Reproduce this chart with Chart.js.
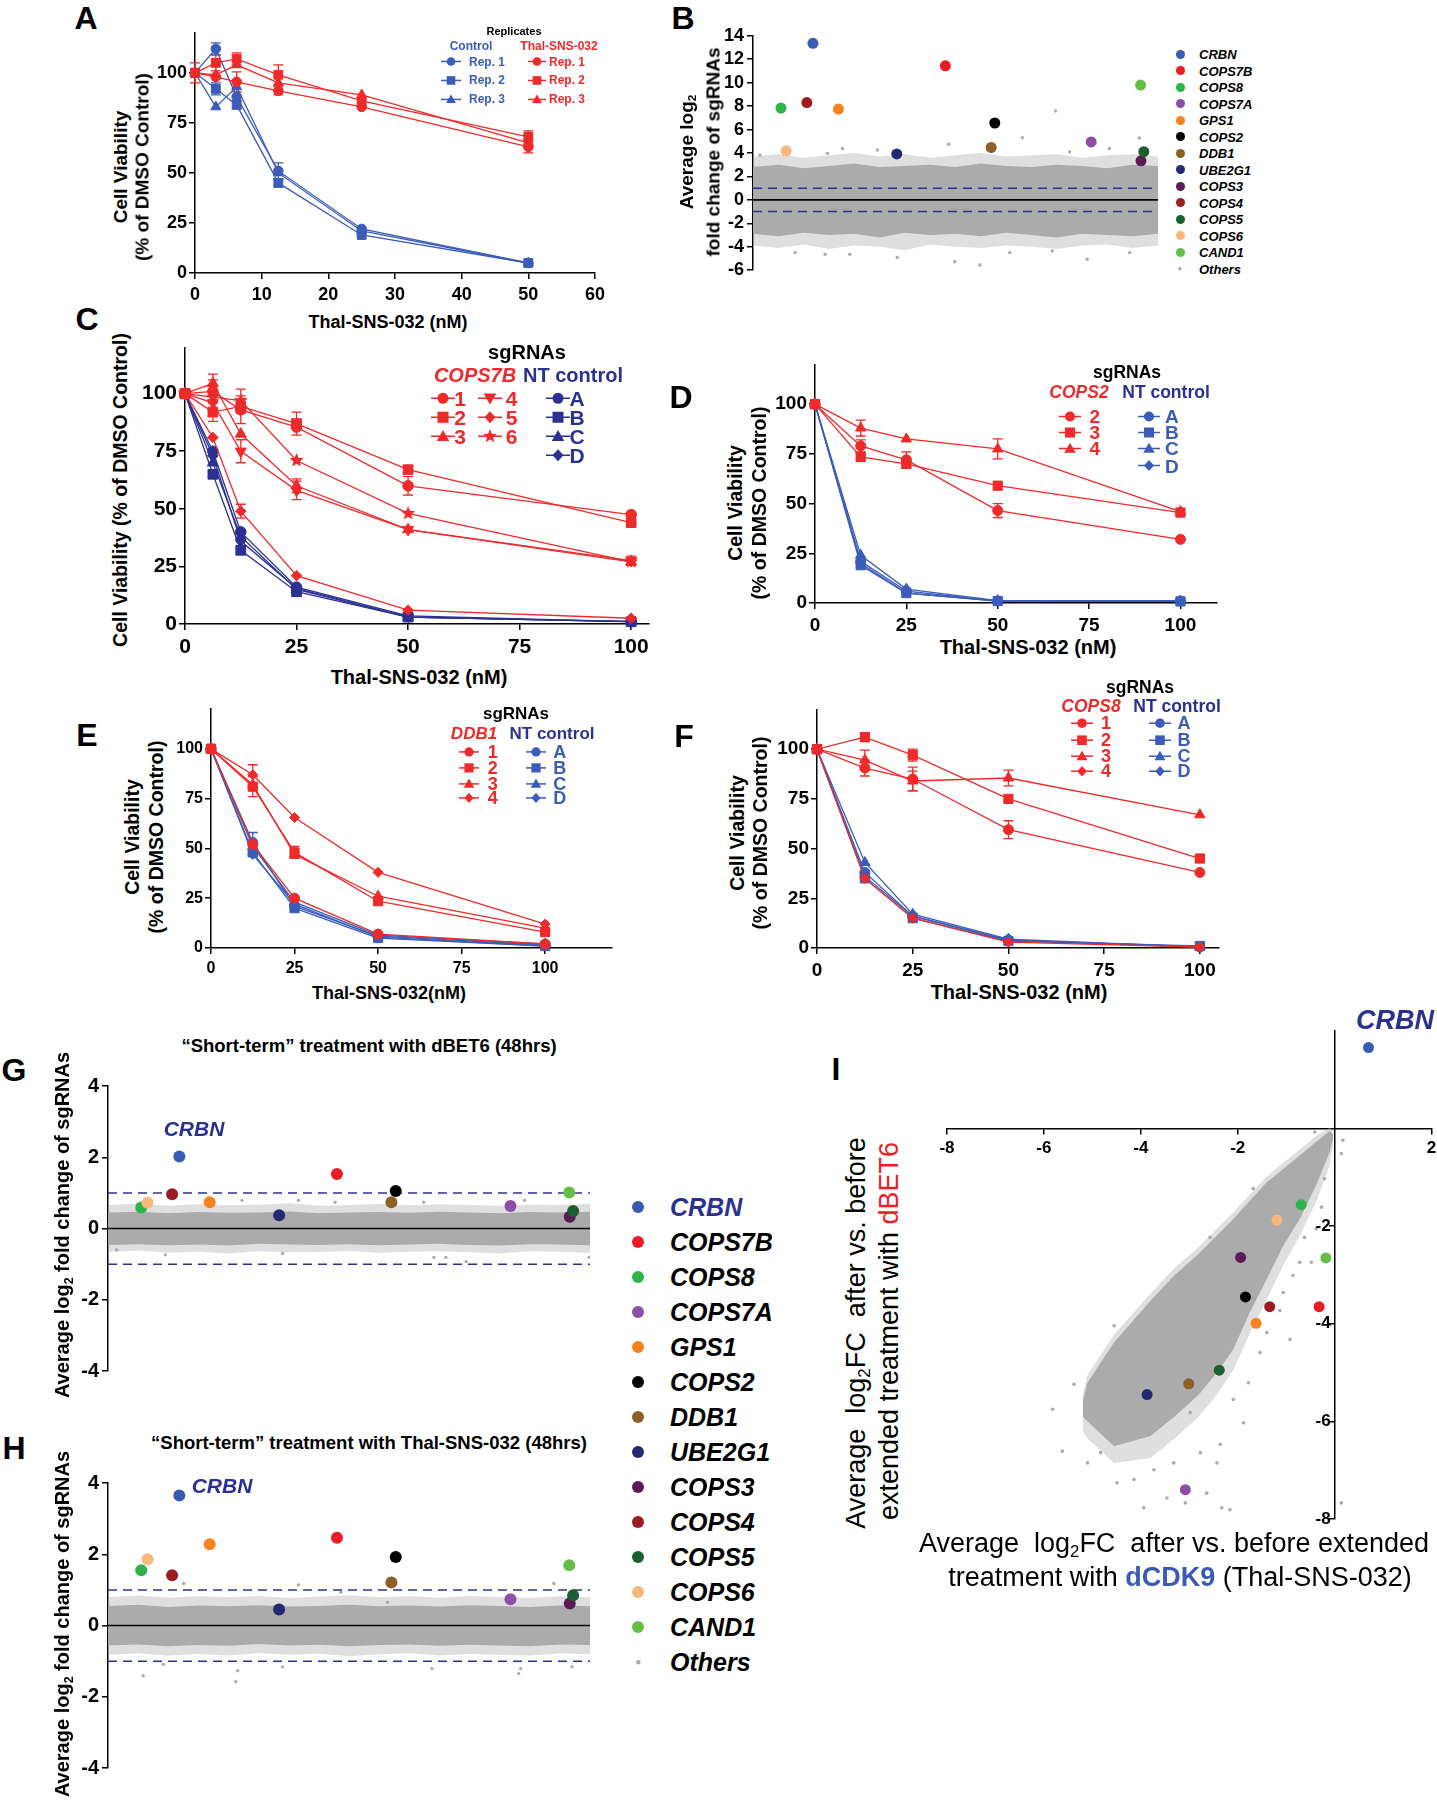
<!DOCTYPE html>
<html>
<head>
<meta charset="utf-8">
<title>Figure</title>
<script src="https://cdn.jsdelivr.net/npm/chart.js@4.4.1/dist/chart.umd.min.js"></script>
<style>
  html, body { margin: 0; padding: 0; background: #fff; }
  body { position: relative; width: 1437px; height: 1800px; overflow: hidden; font-family: 'Liberation Sans', Arial, sans-serif; }
  canvas { position: absolute; }
  .t { position: absolute; white-space: nowrap; line-height: 1; font-weight: bold; transform: translate(-50%, -50%); z-index: 2; }
  .t.l { transform: translate(0, -50%); }
  .t.rot { transform: translate(-50%, -50%) rotate(-90deg); }
  .t sub { font-size: 0.62em; vertical-align: -0.3em; line-height: 0; }
  svg.mk { position: absolute; z-index: 2; overflow: visible; }
</style>
</head>
<body>
<script>
// ---------------- data ----------------
// A: replicates
const DOSE_A = [0, 3.125, 6.25, 12.5, 25, 50];
const A_CTRL_1 = [100, 112, 88, 51, 22, 5];
const A_CTRL_2 = [100, 92, 84, 45, 19, 5];
const A_CTRL_3 = [100, 83, 93, 50, 21, 5];
const A_THAL_1 = [100, 98, 95.5, 91, 83, 63];
const A_THAL_2 = [100, 105, 107, 99, 86, 68];
const A_THAL_3 = [100, 99, 104, 95, 89, 65];
const A_CTRL_1_ERR = [0, 3, 0, 4, 0, 0];
const A_CTRL_2_ERR = [0, 3, 2, 2, 0, 0];
const A_THAL_1_ERR = [0, 0, 5, 2, 0, 3];
const A_THAL_2_ERR = [5, 4, 3, 5, 0, 3];
const A_XTICKS = [0, 10, 20, 30, 40, 50, 60];
const PCT_TICKS = [0, 25, 50, 75, 100];

// C: COPS7B
const DOSE_C = [0, 6.25, 12.5, 25, 50, 100];
const C_S1 = [100, 101, 93, 85.5, 60, 47.5];
const C_S2 = [100, 92, 94.5, 87, 67, 44];
const C_S3 = [100, 104.5, 82.5, 60, 41, 27];
const C_S4 = [100, 96, 75, 58, 41, 27.5];
const C_S5 = [100, 81, 49, 21, 6, 2.5];
const C_S6 = [100, 98.5, 97, 71, 48, 27];
const C_S1_ERR = [0, 5, 6, 0, 4, 0];
const C_S2_ERR = [0, 4, 3, 5, 0, 0];
const C_S3_ERR = [0, 4, 0, 3, 0, 0];
const C_S4_ERR = [0, 0, 5, 4, 0, 2];
const C_S5_ERR = [0, 0, 3, 0, 0, 0];
const C_S6_ERR = [0, 0, 5, 0, 0, 0];
const C_NT_A = [100, 75, 40, 16, 3.5, 1];
const C_NT_B = [100, 65, 32, 14, 3, 1];
const C_NT_C = [100, 70, 38, 15, 3, 1];
const C_NT_D = [100, 73, 36, 15.5, 3, 1];
const DOSE_TICKS = [0, 25, 50, 75, 100];

// D: COPS2
const DOSE_D = [0, 12.5, 25, 50, 100];
const D_S2 = [100, 79, 72, 46.5, 32];
const D_S3 = [100, 73.5, 70, 59, 45.5];
const D_S4 = [100, 88, 82.5, 77.5, 46];
const D_S2_ERR = [0, 3, 4, 3.5, 0];
const D_S3_ERR = [0, 2, 2, 0, 0];
const D_S4_ERR = [0, 4, 0, 5, 0];
const D_NT_A = [100, 21, 6, 1, 1];
const D_NT_B = [100, 19, 5, 1, 0.8];
const D_NT_C = [100, 24, 7, 1.2, 1];
const D_NT_D = [100, 20, 5, 1, 1];

// E: DDB1
const E_S1 = [100, 52, 25, 7, 2];
const E_S2 = [100, 81, 48, 23.5, 8];
const E_S3 = [100, 82, 47, 26, 10];
const E_S4 = [100, 87, 65.5, 38, 12];
const E_S2_ERR = [0, 5, 3, 0, 0];
const E_S4_ERR = [0, 5, 0, 0, 0];
const E_NT_A = [100, 53, 21, 6, 1.5];
const E_NT_A_ERR = [0, 5, 0, 0, 0];
const E_NT_B = [100, 48, 20, 5, 1];
const E_NT_C = [100, 51, 23, 6.5, 2];
const E_NT_D = [100, 47, 22, 5.5, 1];

// F: COPS8
const F_S1 = [100, 90.5, 85, 59.5, 38];
const F_S2 = [100, 106, 97, 75, 45];
const F_S3 = [100, 94.5, 84, 85.5, 67];
const F_S4 = [100, 35, 15, 3, 0.5];
const F_S1_ERR = [0, 4, 6, 4.5, 0];
const F_S2_ERR = [0, 2, 3, 0, 0];
const F_S3_ERR = [0, 5, 5, 4, 0];
const F_NT_A = [100, 38, 16, 4, 0.5];
const F_NT_B = [100, 35, 15, 3.5, 1];
const F_NT_C = [100, 43, 17, 4.5, 0.5];
const F_NT_D = [100, 36, 16, 4, 0.5];

// screen hits (B, G, H, I)
const GENES = ['CRBN', 'COPS7B', 'COPS8', 'COPS7A', 'GPS1', 'COPS2', 'DDB1', 'UBE2G1', 'COPS3', 'COPS4', 'COPS5', 'COPS6', 'CAND1'];
const GENE_COLORS = ['#3a5bb3', '#ed1c24', '#2db34a', '#8f4ea6', '#f7821e', '#000000', '#8d5f28', '#242a72', '#5c1a57', '#9d1c21', '#1b5e30', '#f6b87c', '#66be46'];
const GENE_POS = [14.8, 47.5, 6.9, 83.5, 21.1, 59.7, 58.8, 35.5, 95.8, 13.3, 96.5, 8.2, 95.7];
const B_LFC = [13.36, 11.44, 7.83, 4.94, 7.75, 6.56, 4.47, 3.92, 3.33, 8.30, 4.11, 4.19, 9.80];
const G_LFC = [2.02, 1.53, 0.59, 0.63, 0.74, 1.05, 0.74, 0.37, 0.33, 0.96, 0.49, 0.72, 1.01];
const H_LFC = [3.65, 2.46, 1.55, 0.74, 2.28, 1.92, 1.21, 0.45, 0.62, 1.41, 0.85, 1.86, 1.69];
const I_X = [0.70, -0.32, -0.69, -3.08, -1.62, -1.84, -3.01, -3.87, -1.94, -1.34, -2.38, -1.19, -0.18];
const I_Y = [1.66, -3.65, -1.56, -7.40, -3.99, -3.45, -5.23, -5.45, -2.64, -3.65, -4.95, -1.88, -2.65];
const THRESH = 1;

// "Others": envelope of the dense grey cloud along the gene rank axis
const BAND_X = [0, 6.25, 12.5, 18.75, 25, 31.25, 37.5, 43.75, 50, 56.25, 62.5, 68.75, 75, 81.25, 87.5, 93.75, 100];
const B_CORE_HI = [2.8, 3.0, 2.7, 2.9, 3.1, 2.8, 2.9, 3.0, 2.8, 3.1, 2.9, 2.8, 3.0, 2.9, 2.7, 3.0, 2.9];
const B_CORE_LO = [-2.9, -3.1, -2.8, -3.0, -2.9, -3.2, -2.8, -3.0, -2.9, -3.1, -2.8, -3.0, -3.2, -2.9, -3.0, -3.1, -2.9];
const B_EDGE_HI = [3.7, 3.9, 3.6, 3.8, 4.0, 3.7, 3.9, 3.6, 3.8, 4.0, 3.7, 3.8, 3.9, 3.6, 3.8, 3.9, 3.7];
const B_EDGE_LO = [-3.9, -4.1, -3.8, -4.2, -3.9, -4.0, -4.3, -3.8, -4.0, -4.1, -3.9, -4.0, -4.2, -3.9, -3.8, -4.1, -3.9];
const G_CORE_HI = [0.45, 0.47, 0.43, 0.46, 0.44, 0.45, 0.48, 0.43, 0.45, 0.46, 0.44, 0.47, 0.45, 0.43, 0.46, 0.45, 0.47];
const G_CORE_LO = [-0.46, -0.44, -0.47, -0.45, -0.48, -0.43, -0.45, -0.46, -0.44, -0.47, -0.45, -0.43, -0.46, -0.48, -0.44, -0.45, -0.47];
const G_EDGE_HI = [0.66, 0.70, 0.64, 0.68, 0.65, 0.67, 0.71, 0.64, 0.66, 0.69, 0.65, 0.68, 0.66, 0.64, 0.67, 0.66, 0.69];
const G_EDGE_LO = [-0.66, -0.62, -0.68, -0.65, -0.70, -0.64, -0.67, -0.66, -0.63, -0.68, -0.65, -0.64, -0.67, -0.70, -0.64, -0.65, -0.68];
const H_CORE_HI = [0.55, 0.58, 0.52, 0.56, 0.54, 0.57, 0.53, 0.55, 0.58, 0.54, 0.56, 0.53, 0.57, 0.55, 0.52, 0.56, 0.54];
const H_CORE_LO = [-0.56, -0.53, -0.58, -0.55, -0.57, -0.52, -0.56, -0.54, -0.58, -0.55, -0.53, -0.57, -0.54, -0.56, -0.58, -0.53, -0.55];
const H_EDGE_HI = [0.80, 0.84, 0.78, 0.82, 0.79, 0.83, 0.77, 0.81, 0.85, 0.79, 0.82, 0.78, 0.83, 0.80, 0.77, 0.82, 0.79];
const H_EDGE_LO = [-0.82, -0.78, -0.85, -0.80, -0.84, -0.77, -0.82, -0.79, -0.86, -0.81, -0.78, -0.84, -0.80, -0.82, -0.85, -0.78, -0.81];
// scattered "Others" outside the dense band
const B_OUT_X = [1.7, 18.4, 22.1, 30.7, 48.3, 66.5, 74.7, 95.4, 78.2, 88.0, 10.4, 17.8, 23.9, 35.6, 49.8, 56.0, 63.4, 73.9, 82.5, 93.0];
const B_OUT_Y = [3.83, 3.97, 4.39, 4.25, 4.75, 5.30, 7.58, 5.28, 4.11, 4.39, -4.50, -4.64, -4.64, -4.92, -5.28, -5.56, -4.50, -4.36, -5.06, -4.50];
const G_OUT_X = [11.9, 67.6, 70.1, 74.3, 99.8, 1.8, 36.2, 47.1, 27.8, 65.5, 86.4, 39.5];
const G_OUT_Y = [-0.74, -0.81, -0.81, -0.93, -0.81, -0.60, -0.70, 0.74, 0.79, 0.74, 0.79, 0.79];
const H_OUT_X = [7.3, 26.5, 26.9, 67.2, 85.2, 85.6, 96.3, 15.7, 39.5, 92.5, 36.2, 11.5, 48.3, 58.0];
const H_OUT_Y = [-1.41, -1.58, -1.27, -1.21, -1.35, -1.21, -1.16, 1.18, 1.14, 1.18, -1.16, -1.09, 0.93, 0.65];
const B_YTICKS = [-6, -4, -2, 0, 2, 4, 6, 8, 10, 12, 14];
const GH_YTICKS = [-4, -2, 0, 2, 4];

// I: cloud outline (dense core and sparse halo) and outliers
const I_BAND_X = [-5.2, -5.1, -4.55, -3.8, -3.3, -2.8, -2.43, -2.09, -1.75, -1.40, -1.06, -0.72, -0.38, -0.10, -0.03];
const I_CORE_HI = [-5.60, -5.21, -4.38, -3.53, -3.00, -2.56, -2.19, -1.85, -1.48, -1.10, -0.83, -0.55, -0.27, -0.05, -0.12];
const I_CORE_LO = [-5.90, -6.00, -6.51, -6.30, -5.90, -5.45, -5.00, -4.52, -3.77, -3.08, -2.40, -1.85, -1.16, -0.48, -0.20];
const I_HALO_HI = [-5.45, -5.05, -4.22, -3.38, -2.85, -2.42, -2.05, -1.72, -1.35, -0.98, -0.70, -0.43, -0.15, 0.02, -0.02];
const I_HALO_LO = [-6.20, -6.35, -6.85, -6.75, -6.35, -5.90, -5.45, -4.95, -4.20, -3.50, -2.80, -2.20, -1.50, -0.75, -0.35];
const I_OUT_X = [-0.41, 0.17, 0.14, -0.21, -0.27, -0.62, -0.48, -0.86, -1.13, -0.92, -1.78, -1.88, -2.36, -2.43, -2.16, -2.33, -2.64, -3.08, -3.46, -3.94, -4.14, -4.49, -5.10, -5.62, -5.82, -5.38, -4.55, -3.66, -2.57, -1.68, 0.14, -2.09, -2.98, -1.54, -1.40, -1.06, -0.72, -0.38, -2.77, -3.32, -3.73, -4.83];
const I_OUT_Y = [-0.07, -0.24, -0.51, -1.03, -1.61, -2.23, -2.74, -3.01, -3.73, -4.32, -5.21, -6.03, -6.47, -6.85, -7.81, -7.77, -7.47, -7.67, -7.57, -7.77, -7.19, -7.26, -6.85, -6.61, -5.75, -5.24, -4.04, -3.53, -2.23, -1.23, -7.67, -5.55, -5.82, -4.59, -4.18, -3.36, -2.74, -2.05, -6.64, -6.85, -6.99, -6.64];
const I_XTICKS = [-8, -6, -4, -2, 2];
const I_YTICKS = [-8, -6, -4, -2];

// ---------------- helpers ----------------
const FONT = "'Liberation Sans', Arial, sans-serif";
const RED = '#ee2a2a', BLUE = '#3b5cb8', NAVY = '#2b3190', GRAY = '#ababab', GRAY_SOFT = 'rgba(171,171,171,0.38)';

function T(x, y, html, size, o) {
  o = o || {};
  const d = document.createElement('div');
  d.className = 't' + (o.rot ? ' rot' : '') + (o.left ? ' l' : '');
  d.style.left = x + 'px';
  d.style.top = y + 'px';
  d.style.fontSize = size + 'px';
  if (o.color) d.style.color = o.color;
  if (o.italic) d.style.fontStyle = 'italic';
  if (o.normal) d.style.fontWeight = 'normal';
  d.innerHTML = html;
  document.body.appendChild(d);
}

function starPts(cx, cy, r) {
  const p = [];
  for (let k = 0; k < 10; k++) {
    const a = -Math.PI / 2 + k * Math.PI / 5, rr = k % 2 ? r * 0.45 : r;
    p.push((cx + rr * Math.cos(a)).toFixed(2) + ',' + (cy + rr * Math.sin(a)).toFixed(2));
  }
  return p.join(' ');
}

function shapeSvg(shape, cx, cy, r) {
  switch (shape) {
    case 'circle': return `<circle cx="${cx}" cy="${cy}" r="${r}"/>`;
    case 'rect': return `<rect x="${cx - r}" y="${cy - r}" width="${2 * r}" height="${2 * r}"/>`;
    case 'triangle': return `<polygon points="${cx},${cy - r * 1.15} ${cx + r * 1.15},${cy + r * 0.85} ${cx - r * 1.15},${cy + r * 0.85}"/>`;
    case 'down': return `<polygon points="${cx},${cy + r * 1.15} ${cx + r * 1.15},${cy - r * 0.85} ${cx - r * 1.15},${cy - r * 0.85}"/>`;
    case 'rectRot': return `<polygon points="${cx},${cy - r * 1.1} ${cx + r},${cy} ${cx},${cy + r * 1.1} ${cx - r},${cy}"/>`;
    case 'star': return `<polygon points="${starPts(cx, cy, r * 1.3)}"/>`;
  }
  return '';
}

// legend marker: short line with the symbol in the middle
function MK(cx, cy, shape, color, r, half) {
  const w = half * 2, h = r * 3;
  document.body.insertAdjacentHTML('beforeend',
    `<svg class="mk" width="${w}" height="${h}" style="left:${cx - w / 2}px;top:${cy - h / 2}px" fill="${color}">` +
    `<line x1="0" y1="${h / 2}" x2="${w}" y2="${h / 2}" stroke="${color}" stroke-width="1.5"/>${shapeSvg(shape, w / 2, h / 2, r)}</svg>`);
}

function dot(cx, cy, r, color) {
  document.body.insertAdjacentHTML('beforeend',
    `<svg class="mk" width="${2 * r + 2}" height="${2 * r + 2}" style="left:${cx - r - 1}px;top:${cy - r - 1}px"><circle cx="${r + 1}" cy="${r + 1}" r="${r}" fill="${color}"/></svg>`);
}

function starImg(color, r) {
  const c = document.createElement('canvas');
  c.width = c.height = Math.ceil(2 * r + 2);
  const g = c.getContext('2d');
  g.fillStyle = color;
  g.beginPath();
  for (let k = 0; k < 10; k++) {
    const a = -Math.PI / 2 + k * Math.PI / 5, rr = k % 2 ? r * 0.45 : r;
    g.lineTo(c.width / 2 + rr * Math.cos(a), c.height / 2 + rr * Math.sin(a));
  }
  g.closePath();
  g.fill();
  return c;
}

const errorBars = {
  id: 'errorBars',
  beforeDatasetsDraw(chart) {
    const ctx = chart.ctx, ys = chart.scales.y;
    chart.data.datasets.forEach((ds, i) => {
      if (!ds.errors) return;
      const meta = chart.getDatasetMeta(i);
      ctx.save();
      ctx.strokeStyle = ds.borderColor;
      ctx.lineWidth = 1.3;
      ds.data.forEach((p, j) => {
        const e = ds.errors[j];
        if (!e) return;
        const px = meta.data[j].x, t = ys.getPixelForValue(p.y + e), b = ys.getPixelForValue(p.y - e);
        ctx.beginPath();
        ctx.moveTo(px, t); ctx.lineTo(px, b);
        ctx.moveTo(px - 5, t); ctx.lineTo(px + 5, t);
        ctx.moveTo(px - 5, b); ctx.lineTo(px + 5, b);
        ctx.stroke();
      });
      ctx.restore();
    });
  }
};

function ax(min, max, ticks, size, pad, extra) {
  return Object.assign({
    type: 'linear', min, max,
    afterBuildTicks: s => { s.ticks = ticks.map(v => ({ value: v })); },
    ticks: { color: '#000', padding: pad, font: { family: FONT, size, weight: 'bold' }, maxRotation: 0, autoSkip: false },
    grid: { display: true, drawOnChartArea: false, drawTicks: true, tickLength: 6, color: '#000', lineWidth: 1.5 },
    border: { display: true, color: '#000', width: 1.5 }
  }, extra || {});
}

const pts = (xs, ys) => xs.map((x, i) => ({ x, y: ys[i] }));

function panel(rect, m, x, y, datasets, plugins, cross) {
  const cv = document.createElement('canvas');
  const w = rect.r - rect.l + m.l + m.r, h = rect.b - rect.t + m.t + m.b;
  cv.width = w; cv.height = h;
  Object.assign(cv.style, { left: (rect.l - m.l) + 'px', top: (rect.t - m.t) + 'px', width: w + 'px', height: h + 'px' });
  document.body.appendChild(cv);
  let padding;
  if (cross) {
    padding = { left: m.l, right: m.r, top: m.t, bottom: m.b };
  } else {
    y.afterFit = s => { s.width = m.l; };
    if (x.display !== false) x.afterFit = s => { s.height = m.b; };
    padding = { left: 0, right: m.r, top: m.t, bottom: x.display === false ? m.b : 0 };
  }
  return new Chart(cv, {
    type: 'line',
    data: { datasets },
    options: {
      responsive: false, animation: false, devicePixelRatio: 1,
      layout: { padding },
      plugins: { legend: { display: false }, tooltip: { enabled: false } },
      scales: { x, y }
    },
    plugins: [errorBars].concat(plugins || [])
  });
}

function S(xs, ys, color, shape, err) { return { xs, ys, color, shape, err }; }
function curves(list, r) {
  return list.map(s => ({
    data: pts(s.xs, s.ys),
    borderColor: s.color, backgroundColor: s.color,
    pointBackgroundColor: s.color, pointBorderColor: s.color, pointBorderWidth: 1,
    borderWidth: 1.3, tension: 0,
    pointStyle: s.shape === 'star' ? starImg(s.color, r * 1.4) : (s.shape === 'down' ? 'triangle' : s.shape),
    pointRotation: s.shape === 'down' ? 180 : 0,
    pointRadius: s.shape === 'rect' ? r * 1.3 : ((s.shape === 'triangle' || s.shape === 'down') ? r * 1.2 : r),
    errors: s.err, clip: false
  }));
}

function genePanel(rect, m, yMin, yMax, ticks, tsize, lfc, band, outX, outY, dotR) {
  const flat = v => [{ x: 0, y: v }, { x: 100, y: v }];
  const ds = [
    { data: pts(GENE_POS, lfc), showLine: false, pointRadius: dotR, pointBackgroundColor: GENE_COLORS, pointBorderWidth: 0, clip: false, order: 0 },
    { data: flat(0), borderColor: '#000', borderWidth: 1.6, pointRadius: 0, order: 1 },
    { data: flat(THRESH), borderColor: NAVY, borderWidth: 1.5, borderDash: [9, 6], pointRadius: 0, order: 1 },
    { data: flat(-THRESH), borderColor: NAVY, borderWidth: 1.5, borderDash: [9, 6], pointRadius: 0, order: 1 },
    { data: pts(outX, outY), showLine: false, pointRadius: 1.7, pointBackgroundColor: GRAY, pointBorderWidth: 0, order: 2 },
    { data: pts(BAND_X, band[0]), borderWidth: 0, pointRadius: 0, fill: '+1', backgroundColor: GRAY, order: 3 },
    { data: pts(BAND_X, band[1]), borderWidth: 0, pointRadius: 0, fill: false, order: 3 },
    { data: pts(BAND_X, band[2]), borderWidth: 0, pointRadius: 0, fill: '+1', backgroundColor: GRAY_SOFT, order: 4 },
    { data: pts(BAND_X, band[3]), borderWidth: 0, pointRadius: 0, fill: false, order: 4 }
  ];
  panel(rect, m, { type: 'linear', min: 0, max: 100, display: false }, ax(yMin, yMax, ticks, tsize, 3), ds);
}

// ---------------- panel A ----------------
panel({ l: 195, r: 595, t: 32, b: 273 }, { l: 45, r: 22, t: 12, b: 32 },
  ax(0, 60, A_XTICKS, 18, 5), ax(0, 120, PCT_TICKS, 18, 2),
  curves([
    S(DOSE_A, A_THAL_1, RED, 'circle', A_THAL_1_ERR), S(DOSE_A, A_THAL_2, RED, 'rect', A_THAL_2_ERR), S(DOSE_A, A_THAL_3, RED, 'triangle'),
    S(DOSE_A, A_CTRL_1, BLUE, 'circle', A_CTRL_1_ERR), S(DOSE_A, A_CTRL_2, BLUE, 'rect', A_CTRL_2_ERR), S(DOSE_A, A_CTRL_3, BLUE, 'triangle')
  ], 4.8));

// ---------------- panel B ----------------
genePanel({ l: 753, r: 1158, t: 34, b: 274 }, { l: 38, r: 6, t: 12, b: 10 }, -6, 14, B_YTICKS, 18,
  B_LFC, [B_CORE_HI, B_CORE_LO, B_EDGE_HI, B_EDGE_LO], B_OUT_X, B_OUT_Y, 5.5);

// ---------------- panel C ----------------
panel({ l: 185, r: 649, t: 345, b: 624 }, { l: 52, r: 22, t: 12, b: 36 },
  ax(0, 104, DOSE_TICKS, 21, 5), ax(0, 120, PCT_TICKS, 21, 2),
  curves([
    S(DOSE_C, C_S1, RED, 'circle', C_S1_ERR), S(DOSE_C, C_S2, RED, 'rect', C_S2_ERR), S(DOSE_C, C_S3, RED, 'triangle', C_S3_ERR),
    S(DOSE_C, C_S4, RED, 'down', C_S4_ERR), S(DOSE_C, C_S5, RED, 'rectRot', C_S5_ERR), S(DOSE_C, C_S6, RED, 'star', C_S6_ERR),
    S(DOSE_C, C_NT_A, NAVY, 'circle'), S(DOSE_C, C_NT_B, NAVY, 'rect'), S(DOSE_C, C_NT_C, NAVY, 'triangle'), S(DOSE_C, C_NT_D, NAVY, 'rectRot')
  ], 5.3));

// ---------------- panel D ----------------
panel({ l: 815, r: 1217, t: 363, b: 603 }, { l: 46, r: 20, t: 12, b: 32 },
  ax(0, 110, DOSE_TICKS, 19, 5), ax(0, 120, PCT_TICKS, 19, 2),
  curves([
    S(DOSE_D, D_S2, RED, 'circle', D_S2_ERR), S(DOSE_D, D_S3, RED, 'rect', D_S3_ERR), S(DOSE_D, D_S4, RED, 'triangle', D_S4_ERR),
    S(DOSE_D, D_NT_A, BLUE, 'circle'), S(DOSE_D, D_NT_B, BLUE, 'rect'), S(DOSE_D, D_NT_C, BLUE, 'triangle'), S(DOSE_D, D_NT_D, BLUE, 'rectRot')
  ], 5));

// ---------------- panel E ----------------
panel({ l: 211, r: 612, t: 709, b: 948 }, { l: 42, r: 14, t: 12, b: 28 },
  ax(0, 120, DOSE_TICKS, 16, 5), ax(0, 120, PCT_TICKS, 16, 2),
  curves([
    S(DOSE_D, E_S1, RED, 'circle'), S(DOSE_D, E_S2, RED, 'rect', E_S2_ERR), S(DOSE_D, E_S3, RED, 'triangle'), S(DOSE_D, E_S4, RED, 'rectRot', E_S4_ERR),
    S(DOSE_D, E_NT_A, BLUE, 'circle', E_NT_A_ERR), S(DOSE_D, E_NT_B, BLUE, 'rect'), S(DOSE_D, E_NT_C, BLUE, 'triangle'), S(DOSE_D, E_NT_D, BLUE, 'rectRot')
  ], 5));

// ---------------- panel F ----------------
panel({ l: 817, r: 1219, t: 708, b: 948 }, { l: 46, r: 18, t: 12, b: 32 },
  ax(0, 105, DOSE_TICKS, 19, 5), ax(0, 120, PCT_TICKS, 19, 2),
  curves([
    S(DOSE_D, F_S1, RED, 'circle', F_S1_ERR), S(DOSE_D, F_S2, RED, 'rect', F_S2_ERR), S(DOSE_D, F_S3, RED, 'triangle', F_S3_ERR), S(DOSE_D, F_S4, RED, 'rectRot'),
    S(DOSE_D, F_NT_A, BLUE, 'circle'), S(DOSE_D, F_NT_B, BLUE, 'rect'), S(DOSE_D, F_NT_C, BLUE, 'triangle'), S(DOSE_D, F_NT_D, BLUE, 'rectRot')
  ], 5));

// ---------------- panels G, H ----------------
genePanel({ l: 108, r: 590, t: 1085, b: 1372 }, { l: 42, r: 6, t: 14, b: 14 }, -4, 4, GH_YTICKS, 20,
  G_LFC, [G_CORE_HI, G_CORE_LO, G_EDGE_HI, G_EDGE_LO], G_OUT_X, G_OUT_Y, 6);
genePanel({ l: 108, r: 590, t: 1482, b: 1769 }, { l: 42, r: 6, t: 14, b: 14 }, -4, 4, GH_YTICKS, 20,
  H_LFC, [H_CORE_HI, H_CORE_LO, H_EDGE_HI, H_EDGE_LO], H_OUT_X, H_OUT_Y, 6);

// ---------------- panel I ----------------
const crossTicks = {
  id: 'crossTicks',
  afterDraw(chart) {
    const { ctx, scales: { x, y } } = chart;
    ctx.save();
    ctx.font = 'bold 17px ' + FONT;
    ctx.fillStyle = '#000';
    ctx.textAlign = 'center'; ctx.textBaseline = 'top';
    const y0 = y.getPixelForValue(0), x0 = x.getPixelForValue(0);
    I_XTICKS.forEach(v => ctx.fillText(String(v), x.getPixelForValue(v), y0 + 11));
    ctx.textAlign = 'right'; ctx.textBaseline = 'middle';
    I_YTICKS.forEach(v => ctx.fillText(String(v), x0 - 4, y.getPixelForValue(v)));
    ctx.restore();
  }
};
const crossAx = (ticks, pos) => {
  const a = ax(-8, 2, ticks, 17, 0, { position: pos });
  a.ticks.display = false;
  a.grid.tickLength = 5;
  return a;
};
panel({ l: 947, r: 1437, t: 1031, b: 1519 }, { l: 12, r: 0, t: 10, b: 12 },
  crossAx(I_XTICKS, { y: 0 }), crossAx(I_YTICKS, { x: 0 }),
  [
    { data: pts(I_X, I_Y), showLine: false, pointRadius: 5.5, pointBackgroundColor: GENE_COLORS, pointBorderWidth: 0, clip: false, order: 0 },
    { data: pts(I_OUT_X, I_OUT_Y), showLine: false, pointRadius: 1.8, pointBackgroundColor: GRAY, pointBorderWidth: 0, order: 1 },
    { data: pts(I_BAND_X, I_CORE_HI), borderWidth: 0, pointRadius: 0, fill: '+1', backgroundColor: GRAY, order: 2 },
    { data: pts(I_BAND_X, I_CORE_LO), borderWidth: 0, pointRadius: 0, fill: false, order: 2 },
    { data: pts(I_BAND_X, I_HALO_HI), borderWidth: 0, pointRadius: 0, fill: '+1', backgroundColor: GRAY_SOFT, order: 3 },
    { data: pts(I_BAND_X, I_HALO_LO), borderWidth: 0, pointRadius: 0, fill: false, order: 3 }
  ], [crossTicks], true);

// ---------------- text ----------------
[['A', 86, 18], ['B', 683, 18], ['C', 87, 319], ['D', 681, 397], ['E', 87, 735], ['F', 684, 736], ['G', 14, 1070], ['H', 14, 1448], ['I', 836, 1069]]
  .forEach(([s, x, y]) => T(x, y, s, 32));

// A
T(120, 167, 'Cell Viability', 19, { rot: 1 });
T(142, 167, '(% of DMSO Control)', 19, { rot: 1 });
T(388, 322, 'Thal-SNS-032 (nM)', 18);
T(514, 31, 'Replicates', 11);
T(471, 46, 'Control', 12, { color: BLUE });
T(559, 46, 'Thal-SNS-032', 12, { color: RED });
['circle', 'rect', 'triangle'].forEach((sh, i) => {
  const y = 61.7 + 18.7 * i;
  MK(451, y, sh, BLUE, 4.3, 10); T(469, y, 'Rep. ' + (i + 1), 12, { left: 1, color: BLUE });
  MK(537, y, sh, RED, 4.3, 9); T(549, y, 'Rep. ' + (i + 1), 12, { left: 1, color: RED });
});

// B
T(686, 152, 'Average log<sub>2</sub>', 19, { rot: 1 });
T(713, 152, 'fold change of sgRNAs', 19, { rot: 1 });
GENES.forEach((g, i) => { dot(1180, 54 + 16.5 * i, 4.5, GENE_COLORS[i]); T(1199, 54 + 16.5 * i, g, 13, { left: 1, italic: 1 }); });
dot(1180, 54 + 16.5 * 13, 1.8, GRAY); T(1199, 54 + 16.5 * 13, 'Others', 13, { left: 1, italic: 1 });

// C
T(121, 490, 'Cell Viability (% of DMSO Control)', 19.5, { rot: 1 });
T(419, 677, 'Thal-SNS-032 (nM)', 20);
T(527, 352, 'sgRNAs', 20);
T(475, 375, 'COPS7B', 20, { color: RED, italic: 1 });
T(573, 375, 'NT control', 20, { color: NAVY });
const C_ROWS = [398, 417, 436, 455];
['circle', 'rect', 'triangle'].forEach((sh, i) => { MK(442.5, C_ROWS[i], sh, RED, 5.5, 12); T(460, C_ROWS[i], String(i + 1), 21, { color: RED }); });
['down', 'rectRot', 'star'].forEach((sh, i) => { MK(489.6, C_ROWS[i], sh, RED, 5.5, 12); T(511.7, C_ROWS[i], String(i + 4), 21, { color: RED }); });
['circle', 'rect', 'triangle', 'rectRot'].forEach((sh, i) => { MK(558, C_ROWS[i], sh, NAVY, 5.5, 12); T(577, C_ROWS[i], 'ABCD'[i], 21, { color: NAVY }); });

// D
T(736, 503, 'Cell Viability', 19.5, { rot: 1 });
T(760, 503, '(% of DMSO Control)', 19.5, { rot: 1 });
T(1028, 647, 'Thal-SNS-032 (nM)', 20);
T(1127, 373, 'sgRNAs', 17.5);
T(1079, 393, 'COPS2', 17.5, { color: RED, italic: 1 });
T(1166, 393, 'NT control', 17.5, { color: NAVY });
const D_ROWS = [416, 432.3, 448.3, 465.7];
['circle', 'rect', 'triangle'].forEach((sh, i) => { MK(1069.6, D_ROWS[i], sh, RED, 5, 11); T(1094.7, D_ROWS[i], String(i + 2), 19, { color: RED }); });
['circle', 'rect', 'triangle', 'rectRot'].forEach((sh, i) => { MK(1148.5, D_ROWS[i], sh, BLUE, 5, 11); T(1171.8, D_ROWS[i], 'ABCD'[i], 19, { color: BLUE }); });

// E
T(133, 837, 'Cell Viability', 19.5, { rot: 1 });
T(157, 837, '(% of DMSO Control)', 19.5, { rot: 1 });
T(389, 993, 'Thal-SNS-032(nM)', 18);
T(516, 713, 'sgRNAs', 17);
T(474, 733, 'DDB1', 17, { color: RED, italic: 1 });
T(552, 733, 'NT control', 17, { color: NAVY });
const E_ROWS = [751.7, 767.7, 784, 798.3];
['circle', 'rect', 'triangle', 'rectRot'].forEach((sh, i) => {
  MK(468.5, E_ROWS[i], sh, RED, 4.6, 10); T(492.7, E_ROWS[i], String(i + 1), 18, { color: RED });
  MK(536.3, E_ROWS[i], sh, BLUE, 4.6, 10); T(559.7, E_ROWS[i], 'ABCD'[i], 18, { color: BLUE });
});

// F
T(738, 833, 'Cell Viability', 19.5, { rot: 1 });
T(761, 833, '(% of DMSO Control)', 19.5, { rot: 1 });
T(1019, 992, 'Thal-SNS-032 (nM)', 20);
T(1140, 688, 'sgRNAs', 17.5);
T(1091, 707, 'COPS8', 17.5, { color: RED, italic: 1 });
T(1177, 707, 'NT control', 17.5, { color: NAVY });
const F_ROWS = [723.3, 740, 756, 771];
['circle', 'rect', 'triangle', 'rectRot'].forEach((sh, i) => {
  MK(1082, F_ROWS[i], sh, RED, 4.8, 11); T(1106, F_ROWS[i], String(i + 1), 18, { color: RED });
  MK(1160, F_ROWS[i], sh, BLUE, 4.8, 11); T(1184, F_ROWS[i], 'ABCD'[i], 18, { color: BLUE });
});

// G, H
T(369, 1046, '\u201CShort-term\u201D treatment with dBET6 (48hrs)', 18.5);
T(62, 1225, 'Average log<sub>2</sub> fold change of sgRNAs', 20, { rot: 1 });
T(194, 1128, 'CRBN', 21, { color: NAVY, italic: 1 });
T(369, 1443, '\u201CShort-term\u201D treatment with Thal-SNS-032 (48hrs)', 18.5);
T(62, 1624, 'Average log<sub>2</sub> fold change of sgRNAs', 20, { rot: 1 });
T(222, 1485, 'CRBN', 21, { color: NAVY, italic: 1 });
GENES.forEach((g, i) => { dot(638, 1207 + 35 * i, 6, GENE_COLORS[i]); T(670, 1207 + 35 * i, g, 25, { left: 1, italic: 1, color: i === 0 ? NAVY : '#000' }); });
dot(638, 1207 + 35 * 13, 2.3, GRAY); T(670, 1207 + 35 * 13, 'Others', 25, { left: 1, italic: 1 });

// I
T(1395, 1020, 'CRBN', 27, { color: NAVY, italic: 1 });
T(856, 1333, 'Average&nbsp; log<sub>2</sub>FC&nbsp; after vs. before', 27, { rot: 1, normal: 1 });
T(889, 1331, 'extended treatment with <span style="color:#ee1c25">dBET6</span>', 27, { rot: 1, normal: 1 });
T(1174, 1543, 'Average&nbsp; log<sub>2</sub>FC&nbsp; after vs. before extended', 27, { normal: 1 });
T(1180, 1577, 'treatment with <b style="color:#3a5bb5">dCDK9</b> (Thal-SNS-032)', 27, { normal: 1 });
</script>
</body>
</html>
